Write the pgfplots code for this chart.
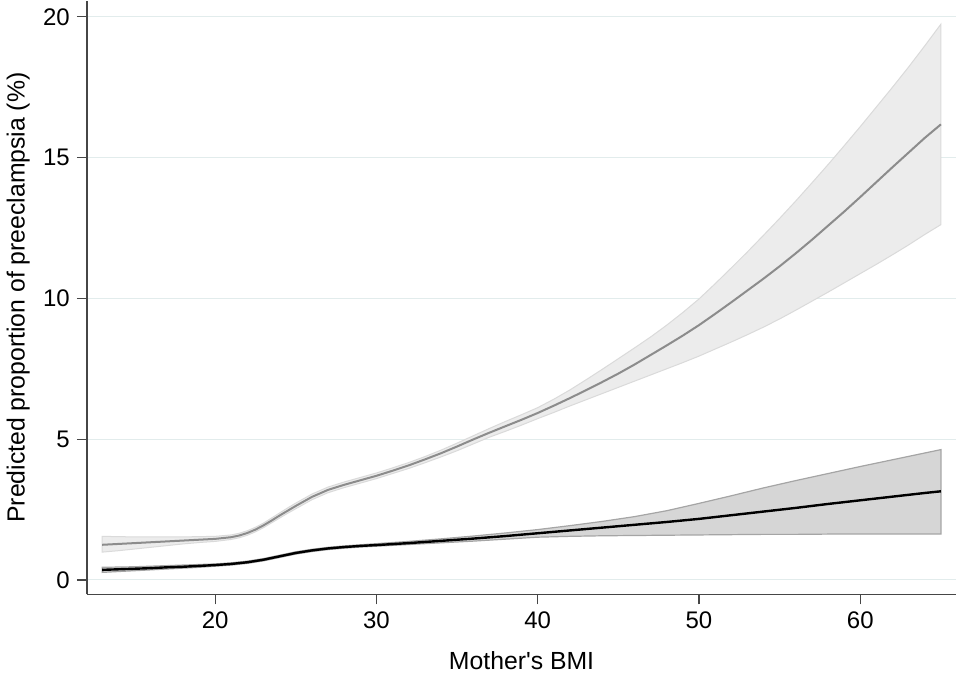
\documentclass[border=0pt]{standalone}
\usepackage{fontspec}
\setmainfont{Liberation Sans}
\usepackage{pgfplots}
\usepackage{pgfplotstable}
\pgfplotsset{compat=1.18}
\usepgfplotslibrary{fillbetween}
\definecolor{gridc}{RGB}{226,236,236}
\definecolor{axc}{RGB}{70,70,70}
\definecolor{bandA}{RGB}{236,236,236}
\definecolor{bandAedge}{RGB}{218,218,218}
\definecolor{lineA}{RGB}{140,140,140}
\definecolor{bandB}{RGB}{214,214,214}
\definecolor{bandBedge}{RGB}{165,165,165}

\pgfplotstableread{
x g gu gl
13 1.25 1.55 0.99
14 1.28 1.54 1.04
15 1.31 1.53 1.10
16 1.34 1.53 1.16
17 1.37 1.53 1.22
18 1.40 1.53 1.28
19 1.43 1.54 1.33
20 1.46 1.55 1.37
21 1.52 1.60 1.44
21.5 1.58 1.66 1.50
22 1.67 1.75 1.59
22.5 1.79 1.87 1.71
23 1.94 2.02 1.86
23.5 2.11 2.20 2.03
24 2.29 2.38 2.20
24.5 2.46 2.56 2.37
25 2.63 2.73 2.53
26 2.95 3.05 2.85
27 3.20 3.30 3.10
28 3.38 3.48 3.28
29 3.54 3.64 3.44
30 3.70 3.80 3.60
31 3.88 3.98 3.78
32 4.07 4.17 3.96
33 4.28 4.38 4.16
34 4.50 4.61 4.37
35 4.74 4.86 4.59
36 4.99 5.12 4.83
37 5.23 5.38 5.07
38 5.46 5.63 5.28
39 5.69 5.87 5.50
40 5.93 6.12 5.73
41 6.19 6.42 5.95
42 6.46 6.75 6.18
43 6.74 7.11 6.40
44 7.03 7.48 6.62
45 7.33 7.86 6.84
46 7.65 8.24 7.06
47 7.99 8.63 7.28
48 8.33 9.05 7.50
49 8.68 9.50 7.72
50 9.05 9.98 7.95
51 9.45 10.52 8.20
52 9.86 11.08 8.45
53 10.28 11.65 8.71
54 10.70 12.24 8.98
55 11.14 12.84 9.27
56 11.60 13.46 9.58
57 12.08 14.10 9.90
58 12.58 14.75 10.22
59 13.08 15.42 10.55
60 13.60 16.10 10.88
61 14.13 16.80 11.21
62 14.66 17.50 11.55
63 15.18 18.22 11.90
64 15.70 18.97 12.27
65 16.18 19.74 12.62
}\grayT

\pgfplotstableread{
x b bu bl
13 0.36 0.45 0.27
14 0.38 0.46 0.30
15 0.40 0.47 0.33
16 0.42 0.49 0.36
17 0.45 0.51 0.39
18 0.47 0.53 0.42
19 0.50 0.55 0.45
20 0.53 0.57 0.49
21 0.57 0.61 0.53
22 0.63 0.67 0.59
23 0.72 0.76 0.68
24 0.84 0.88 0.80
25 0.96 1.00 0.92
26 1.05 1.09 1.01
27 1.12 1.16 1.08
28 1.17 1.21 1.13
29 1.21 1.25 1.17
30 1.24 1.29 1.20
32 1.31 1.37 1.26
34 1.39 1.46 1.32
36 1.47 1.56 1.38
38 1.56 1.67 1.45
40 1.66 1.79 1.52
42 1.76 1.93 1.55
44 1.86 2.08 1.57
46 1.96 2.25 1.58
48 2.06 2.46 1.59
50 2.17 2.72 1.60
52 2.30 2.99 1.61
54 2.43 3.27 1.62
56 2.56 3.53 1.62
58 2.70 3.78 1.63
60 2.83 4.03 1.63
62 2.96 4.27 1.63
64 3.09 4.51 1.63
65 3.15 4.63 1.63
}\blackT

\begin{document}
\begin{tikzpicture}
\begin{axis}[
  scale only axis,
  width=433.5bp, height=296bp,
  xmin=12.05, xmax=65.95,
  ymin=-0.51, ymax=20.57,
  axis x line*=bottom, axis y line*=left,
  axis line style={axc, line width=0.75bp},
  xtick={20,30,40,50,60},
  ytick={0,5,10,15,20},
  tick align=outside,
  major tick length=5bp,
  tick style={axc, line width=0.6bp},
  ymajorgrids,
  grid style={gridc, line width=0.5bp},
  /pgf/number format/assume math mode=true,
  tick label style={font=\fontsize{12}{14}\selectfont},
  label style={font=\fontsize{12.4}{14.5}\selectfont},
  xlabel={Mother\textquotesingle s BMI},
  ylabel={Predicted proportion of preeclampsia (\%)},
  xlabel style={at={(axis description cs:0.5,-0.1115)}, anchor=center},
  ylabel style={at={(axis description cs:-0.079,0.5)}, anchor=center},
  clip=false,
]
\addplot[name path=gu, draw=none] table[x=x, y=gu] {\grayT};
\addplot[name path=gl, draw=none] table[x=x, y=gl] {\grayT};
\addplot[fill=bandA, draw=bandAedge, line width=0.5bp] fill between[of=gu and gl];
\addplot[name path=bu, draw=none] table[x=x, y=bu] {\blackT};
\addplot[name path=bl, draw=none] table[x=x, y=bl] {\blackT};
\addplot[fill=bandB, draw=bandBedge, line width=0.6bp] fill between[of=bu and bl];
\addplot[lineA, line width=1bp] table[x=x, y=g] {\grayT};
\addplot[black, line width=1.2bp] table[x=x, y=b] {\blackT};
\end{axis}
\end{tikzpicture}
\end{document}
